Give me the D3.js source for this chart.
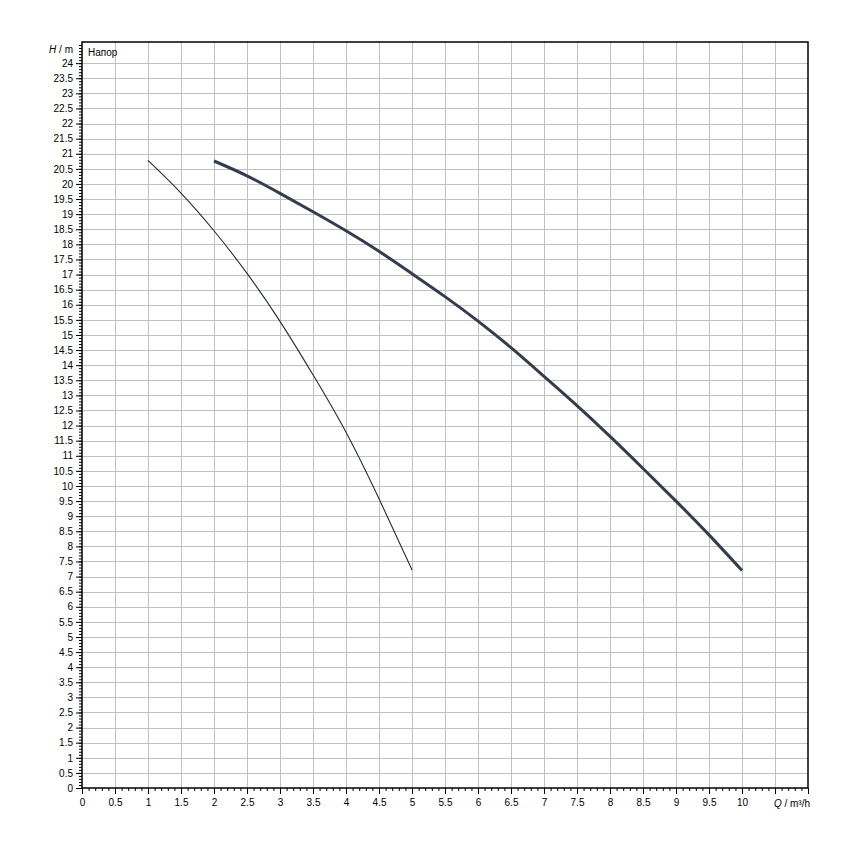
<!DOCTYPE html>
<html>
<head>
<meta charset="utf-8">
<script src="https://cdn.jsdelivr.net/npm/d3@7"></script>
<style>
  body { margin: 0; background: #fff; }
  svg { font-family: "Liberation Sans", Arial, sans-serif; }
</style>
</head>
<body>
<div id="chart"></div>
<script>
"use strict";

/* Pump curves: Q in m³/h, H in m */

const SMALL_Q = [1, 1.5, 2, 2.5, 3, 3.5, 4, 4.5, 5];
const SMALL_H = [20.78, 19.7, 18.45, 17.04, 15.45, 13.68, 11.78, 9.58, 7.22];

const BIG_Q = [2, 2.5, 3, 3.5, 4, 4.5, 5, 5.5, 6, 6.5, 7, 7.5, 8, 8.5, 9, 9.5, 10];
const BIG_H = [20.76, 20.27, 19.69, 19.08, 18.45, 17.77, 17.03, 16.27, 15.46,
  14.58, 13.63, 12.66, 11.64, 10.58, 9.5, 8.38, 7.2];

// tick labels every 0.5
const X_LABELS = d3.range(0, 10.01, 0.5);
const Y_LABELS = d3.range(0, 24.01, 0.5);

const X_MAX = 11;
const Y_MAX = 24.7;

const svg = d3.select("#chart")
  .append("svg")
  .attr("width", 850)
  .attr("height", 850);

const x = d3.scaleLinear()
  .domain([0, X_MAX])
  .range([82, 808]);

const y = d3.scaleLinear()
  .domain([0, Y_MAX])
  .range([788, 42]);

/* grid */
const grid = svg.append("g")
  .attr("stroke", "#c0c0c0")
  .attr("stroke-width", 1);

grid.selectAll(".vgrid")
  .data(d3.range(0.5, X_MAX, 0.5))
  .enter()
  .append("line")
  .attr("class", "vgrid")
  .attr("x1", d => Math.round(x(d)) + 0.5)
  .attr("x2", d => Math.round(x(d)) + 0.5)
  .attr("y1", y(0))
  .attr("y2", y(Y_MAX));

grid.selectAll(".hgrid")
  .data(d3.range(0.5, 24.01, 0.5))
  .enter()
  .append("line")
  .attr("class", "hgrid")
  .attr("x1", x(0))
  .attr("x2", x(X_MAX))
  .attr("y1", d => Math.round(y(d)) + 0.5)
  .attr("y2", d => Math.round(y(d)) + 0.5);

/* axes: minor ticks every 0.1, major every 0.5 */
const xMinor = d3.axisBottom(x)
  .tickValues(d3.range(0, X_MAX + 0.001, 0.1))
  .tickSize(3)
  .tickFormat("");

const xMajor = d3.axisBottom(x)
  .tickValues(d3.range(0, X_MAX + 0.001, 0.5))
  .tickSize(6)
  .tickFormat(d => X_LABELS.includes(d) ? String(d) : "");

const yMinor = d3.axisLeft(y)
  .tickValues(d3.range(0, Y_MAX, 0.1))
  .tickSize(3)
  .tickFormat("");

const yMajor = d3.axisLeft(y)
  .tickValues(Y_LABELS)
  .tickSize(6)
  .tickFormat(d => String(d));

function styleAxis(g) {
  g.select(".domain").remove();
  g.selectAll(".tick line").attr("stroke", "#000").attr("stroke-width", 1);
  g.selectAll(".tick text")
    .attr("fill", "#000")
    .style("font-size", "10px")
    .style("font-family", "'Liberation Sans', Arial, sans-serif");
}

svg.append("g").attr("transform", `translate(0,${y(0)})`).call(xMinor).call(styleAxis);
svg.append("g").attr("transform", `translate(0,${y(0)})`).call(xMajor).call(styleAxis)
  .selectAll(".tick text").attr("dy", "1.05em").attr("y", 7);
svg.append("g").attr("transform", `translate(${x(0)},0)`).call(yMinor).call(styleAxis);
svg.append("g").attr("transform", `translate(${x(0)},0)`).call(yMajor).call(styleAxis)
  .selectAll(".tick text").attr("x", -9);

/* frame */
svg.append("rect")
  .attr("x", x(0))
  .attr("y", y(Y_MAX))
  .attr("width", x(X_MAX) - x(0))
  .attr("height", y(0) - y(Y_MAX))
  .attr("fill", "none")
  .attr("stroke", "#000")
  .attr("stroke-width", 1.5);

/* curves - natural spline keeps them smooth through the read points */
const line = d3.line()
  .x(d => x(d[0]))
  .y(d => y(d[1]))
  .curve(d3.curveNatural);

svg.append("path")
  .datum(d3.zip(SMALL_Q, SMALL_H))
  .attr("d", line)
  .attr("fill", "none")
  .attr("stroke", "#232a36")
  .attr("stroke-width", 1.1);

svg.append("path")
  .datum(d3.zip(BIG_Q, BIG_H))
  .attr("d", line)
  .attr("fill", "none")
  .attr("stroke", "#343d4b")
  .attr("stroke-width", 3);

/* axis titles */
const hTitle = svg.append("text")
  .attr("x", 73)
  .attr("y", 53)
  .attr("text-anchor", "end")
  .style("font-size", "10px");
hTitle.append("tspan").style("font-style", "italic").text("H");
hTitle.append("tspan").text(" / m");

svg.append("text")
  .attr("x", 88)
  .attr("y", 56)
  .style("font-size", "10px")
  .text("Напор");

const qTitle = svg.append("text")
  .attr("x", 810)
  .attr("y", 807)
  .attr("text-anchor", "end")
  .style("font-size", "10px");
qTitle.append("tspan").style("font-style", "italic").text("Q");
qTitle.append("tspan").text(" / m³/h");
</script>
</body>
</html>
